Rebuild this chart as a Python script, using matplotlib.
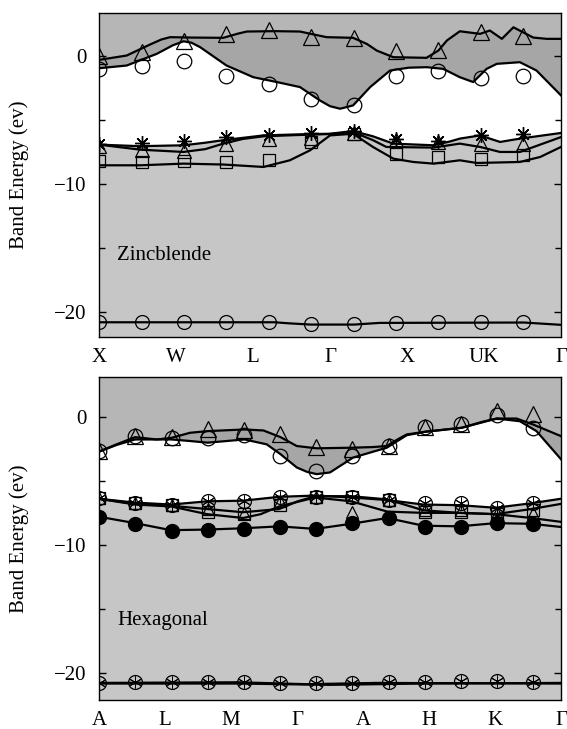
import numpy as np
import matplotlib.pyplot as plt

plt.rcParams['font.family'] = ['Liberation Serif', 'DejaVu Serif']

# ---------------- Zincblende (top panel) ----------------
zb_labels = ['X', 'W', 'L', 'Γ', 'X', 'UK', 'Γ']
zb_k = [0.0, 0.092, 0.183, 0.275, 0.367, 0.459, 0.551, 0.643, 0.734, 0.826, 0.918]

zb_tri_up = [0.0, 0.26, 1.17, 1.69, 2.0, 1.43, 1.38, 0.39, 0.44, 1.82, 1.5]
zb_circ_up = [-1.09, -0.78, -0.39, -1.63, -2.2, -3.42, -3.89, -1.63, -1.17, -1.77, -1.56]
zb_star = [-6.87, -6.80, -6.69, -6.36, -6.23, -6.04, -5.91, -6.49, -6.67, -6.23, -6.15]
zb_tri_low = [-7.08, -7.35, -7.44, -6.87, -6.49, -6.41, -6.04, -6.62, -6.75, -6.87, -6.87]
zb_square = [-8.22, -8.30, -8.22, -8.30, -8.17, -6.74, -6.10, -7.65, -7.91, -8.04, -7.78]
zb_circ_bot = [-20.8, -20.8, -20.8, -20.8, -20.8, -20.95, -20.95, -20.85, -20.8, -20.8, -20.8]

# band lines (k, E)
zb_u1_k = [0.0, 0.06, 0.11, 0.135, 0.154, 0.2, 0.269, 0.3, 0.32, 0.38, 0.435, 0.47, 0.493,
           0.55, 0.58, 0.601, 0.637, 0.709, 0.735, 0.753, 0.781, 0.825, 0.846, 0.872, 0.897,
           0.94, 0.969, 1.0]
zb_u1_e = [-0.34, 0.0, 0.85, 1.25, 1.43, 1.4, 1.38, 1.7, 1.87, 1.9, 1.87, 1.6, 1.43,
           1.38, 0.9, 0.39, -0.13, -0.18, 0.4, 1.17, 1.89, 1.69, 1.95, 1.3, 2.2,
           1.4, 1.3, 1.3]
zb_u2_k = [0.0, 0.06, 0.125, 0.16, 0.183, 0.2, 0.219, 0.276, 0.334, 0.385, 0.435, 0.478,
           0.5, 0.522, 0.55, 0.587, 0.63, 0.67, 0.709, 0.745, 0.781, 0.81, 0.839, 0.861,
           0.911, 0.947, 1.0]
zb_u2_e = [-0.99, -0.78, 0.13, 0.8, 1.11, 1.0, 0.65, -0.78, -1.69, -2.07, -2.46, -3.5,
           -3.95, -4.15, -3.89, -2.46, -1.17, -0.95, -0.91, -1.04, -1.69, -2.07, -1.04, -0.65,
           -0.52, -1.17, -3.11]
zb_s_k = [0.0, 0.089, 0.183, 0.23, 0.269, 0.356, 0.43, 0.5, 0.55, 0.593, 0.637, 0.724,
          0.76, 0.781, 0.825, 0.868, 0.911, 1.0]
zb_s_e = [-6.95, -7.07, -7.0, -6.8, -6.6, -6.23, -6.15, -6.1, -5.89, -6.3, -6.87, -7.0,
          -6.7, -6.48, -6.23, -6.74, -6.48, -6.04]
zb_t_k = [0.0, 0.089, 0.183, 0.23, 0.269, 0.312, 0.356, 0.43, 0.5, 0.55, 0.593, 0.622,
          0.724, 0.781, 0.825, 0.868, 0.911, 1.0]
zb_t_e = [-6.95, -7.34, -7.52, -7.3, -6.87, -6.5, -6.3, -6.2, -6.12, -5.97, -6.6, -7.13,
          -7.18, -6.87, -7.13, -7.52, -7.52, -6.36]
zb_q_k = [0.0, 0.089, 0.183, 0.269, 0.356, 0.413, 0.457, 0.5, 0.55, 0.593, 0.637, 0.68,
          0.724, 0.781, 0.818, 0.911, 0.955, 1.0]
zb_q_e = [-8.56, -8.56, -8.43, -8.5, -8.69, -8.17, -7.39, -6.23, -6.1, -7.13, -8.04, -8.3,
          -8.43, -8.17, -8.38, -8.3, -7.91, -7.13]
zb_b_k = [0.0, 0.2, 0.38, 0.41, 0.458, 0.552, 0.607, 0.92, 1.0]
zb_b_e = [-20.8, -20.8, -20.8, -20.88, -20.98, -20.98, -20.85, -20.82, -21.0]

# ---------------- Hexagonal (bottom panel) ----------------
hx_labels = ['A', 'L', 'M', 'Γ', 'A', 'H', 'K', 'Γ']
hx_k = [0.0, 0.078, 0.157, 0.235, 0.313, 0.392, 0.47, 0.548, 0.627, 0.705, 0.783, 0.862, 0.94]

hx_tri_up = [-2.68, -1.52, -1.60, -1.0, -1.08, -1.39, -2.37, -2.55, -2.29, -0.82, -0.57, 0.41, 0.21]
hx_circ_up = [-2.68, -1.52, -1.64, -1.70, -1.44, -3.07, -4.22, -3.07, -2.29, -0.82, -0.57, 0.1, -0.87]
hx_cstar = [-6.36, -6.75, -6.88, -6.57, -6.57, -6.23, -6.23, -6.23, -6.49, -6.75, -6.75, -7.14, -6.75]
hx_square = [-6.36, -6.75, -6.88, -7.4, -7.6, -6.9, -6.23, -6.3, -6.49, -7.4, -7.4, -7.6, -7.3]
hx_tri_low = [-6.36, -6.75, -6.88, -7.2, -7.5, -6.6, -6.23, -7.4, -6.5, -7.3, -7.3, -7.5, -7.5]
hx_dot = [-7.79, -8.36, -8.88, -8.83, -8.75, -8.57, -8.75, -8.31, -7.92, -8.57, -8.57, -8.31, -8.36]
hx_bot = [-20.75, -20.7, -20.65, -20.65, -20.65, -20.75, -20.75, -20.75, -20.7, -20.65, -20.6, -20.6, -20.65]

hx_h1_k = [0.0, 0.038, 0.078, 0.125, 0.157, 0.197, 0.235, 0.315, 0.356, 0.393, 0.428, 0.471,
           0.55, 0.594, 0.623, 0.645, 0.666, 0.706, 0.785, 0.83, 0.861, 0.904, 0.94, 1.0]
hx_h1_e = [-2.73, -2.16, -1.60, -1.78, -1.65, -1.26, -1.13, -1.0, -1.08, -1.60, -2.29, -2.47,
           -2.42, -2.37, -2.29, -1.8, -1.39, -1.18, -0.87, -0.4, -0.15, -0.15, -0.62, -1.52]
hx_h2_k = [0.0, 0.038, 0.078, 0.157, 0.197, 0.235, 0.315, 0.363, 0.393, 0.428, 0.45, 0.471,
           0.5, 0.55, 0.623, 0.666, 0.706, 0.785, 0.861, 0.911, 0.947, 1.0]
hx_h2_e = [-2.73, -2.21, -1.78, -1.78, -1.9, -2.03, -1.78, -2.16, -2.93, -3.96, -4.3, -4.48,
           -4.35, -3.19, -2.42, -1.45, -1.18, -0.87, -0.15, -0.36, -1.13, -3.32]
hx_l1_k = [0.0, 0.078, 0.156, 0.234, 0.312, 0.39, 0.468, 0.546, 0.624, 0.702, 0.78, 0.858, 0.936, 1.0]
hx_l1_e = [-6.4, -6.7, -6.85, -6.6, -6.55, -6.25, -6.15, -6.3, -6.5, -6.85, -6.9, -7.1, -6.75, -6.4]
hx_l2_k = [0.0, 0.078, 0.156, 0.234, 0.312, 0.39, 0.43, 0.468, 0.546, 0.624, 0.702, 0.78, 0.858, 0.936, 1.0]
hx_l2_e = [-6.4, -6.8, -6.95, -7.2, -7.45, -7.2, -6.6, -6.2, -6.2, -6.45, -7.3, -7.5, -7.6, -7.2, -6.8]
hx_l3_k = [0.0, 0.078, 0.156, 0.234, 0.312, 0.35, 0.39, 0.468, 0.546, 0.624, 0.702, 0.78, 0.858, 0.936, 1.0]
hx_l3_e = [-6.4, -6.85, -7.0, -7.6, -7.9, -7.6, -7.0, -6.3, -6.6, -7.4, -7.5, -7.5, -7.6, -7.9, -8.2]
hx_l4_k = [0.0, 0.078, 0.156, 0.234, 0.312, 0.39, 0.468, 0.546, 0.624, 0.702, 0.78, 0.858, 0.936, 1.0]
hx_l4_e = [-7.8, -8.3, -8.85, -8.8, -8.7, -8.55, -8.75, -8.35, -7.9, -8.5, -8.55, -8.3, -8.35, -8.6]
hx_b1_k = [0.0, 0.3, 0.45, 0.6, 1.0]
hx_b1_e = [-20.75, -20.7, -20.85, -20.75, -20.8]
hx_b2_k = [0.0, 0.3, 0.5, 0.7, 1.0]
hx_b2_e = [-20.8, -20.8, -20.9, -20.8, -20.75]

LW = 1.6
GRAY_LOW = '#c6c6c6'
GRAY_TOP = '#b6b6b6'
GRAY_MID = '#a6a6a6'


def shade(ax, k_up, e_up, k_mid, e_mid, k_gap, e_gap):
    # gray above top band, darker between the two upper bands, white gap below
    ax.fill(np.r_[k_up, 1.0, 0.0], np.r_[e_up, 10, 10], color=GRAY_TOP, lw=0, zorder=0.5)
    ax.fill(np.r_[k_up, k_mid[::-1]], np.r_[e_up, e_mid[::-1]], color=GRAY_MID, lw=0, zorder=0.6)
    ax.fill(np.r_[k_mid, k_gap[::-1]], np.r_[e_mid, e_gap[::-1]], color='white', lw=0, zorder=0.7)


def style(ax, labels, ylim, name, name_y):
    ax.set_facecolor(GRAY_LOW)
    ax.set_xlim(0, 1)
    ax.set_ylim(*ylim)
    ax.set_xticks(np.linspace(0, 1, len(labels)))
    ax.set_xticklabels(labels, fontsize=15)
    ax.tick_params(axis='x', length=0, pad=8)
    ax.set_yticks([0, -10, -20])
    ax.set_yticklabels(['0', '\u221210', '\u221220'], fontsize=15)
    ax.set_yticks([-5, -15], minor=True)
    ax.tick_params(axis='y', which='both', direction='in', left=True, right=True, pad=9)
    ax.tick_params(axis='y', which='major', length=5, width=1)
    ax.tick_params(axis='y', which='minor', length=4, width=1)
    for sp in ax.spines.values():
        sp.set_linewidth(1.0)
    ax.text(0.04, name_y, name, fontsize=15, va='center', ha='left', zorder=4)


fig = plt.figure(figsize=(5.67, 7.29), dpi=100)
ax1 = fig.add_axes([0.1746, 0.5377, 0.8148, 0.4449])
ax2 = fig.add_axes([0.1746, 0.0398, 0.8148, 0.4431])

mk = dict(linestyle='none', color='black', markerfacecolor='none', zorder=3)

# top panel
shade(ax1, zb_u1_k, zb_u1_e, zb_u2_k, zb_u2_e, zb_s_k, zb_s_e)
for kk, ee in [(zb_u1_k, zb_u1_e), (zb_u2_k, zb_u2_e), (zb_s_k, zb_s_e),
               (zb_t_k, zb_t_e), (zb_q_k, zb_q_e), (zb_b_k, zb_b_e)]:
    ax1.plot(kk, ee, color='black', lw=LW, zorder=2, solid_joinstyle='round')
ax1.plot(zb_k, zb_tri_up, marker='^', markersize=11, mew=0.9, **mk)
ax1.plot(zb_k, zb_circ_up, marker='o', markersize=10.5, mew=0.9, **mk)
ax1.plot(zb_k, zb_tri_low, marker='^', markersize=9.5, mew=0.9, **mk)
ax1.plot(zb_k, zb_star, marker=(8, 2, 0), markersize=10.5, mew=1.0, **mk)
ax1.plot(zb_k, zb_square, marker='s', markersize=8, mew=0.9, **mk)
ax1.plot(zb_k, zb_circ_bot, marker='o', markersize=10, mew=0.9, **mk)
style(ax1, zb_labels, (-21.95, 3.34), 'Zincblende', -15.6)

# bottom panel
shade(ax2, hx_h1_k, hx_h1_e, hx_h2_k, hx_h2_e, hx_l1_k, hx_l1_e)
for kk, ee in [(hx_h1_k, hx_h1_e), (hx_h2_k, hx_h2_e), (hx_l1_k, hx_l1_e), (hx_l2_k, hx_l2_e),
               (hx_l3_k, hx_l3_e), (hx_l4_k, hx_l4_e), (hx_b1_k, hx_b1_e), (hx_b2_k, hx_b2_e)]:
    ax2.plot(kk, ee, color='black', lw=LW, zorder=2, solid_joinstyle='round')
ax2.plot(hx_k, hx_tri_up, marker='^', markersize=11, mew=0.9, **mk)
ax2.plot(hx_k, hx_circ_up, marker='o', markersize=10.5, mew=0.9, **mk)
ax2.plot(hx_k, hx_square, marker='s', markersize=8, mew=0.9, **mk)
ax2.plot(hx_k, hx_tri_low, marker='^', markersize=8.5, mew=0.9, **mk)
ax2.plot(hx_k, hx_cstar, marker='o', markersize=10, mew=0.9, **mk)
ax2.plot(hx_k, hx_cstar, marker=(6, 2, 0), markersize=8.5, mew=0.7, **mk)
ax2.plot(hx_k, hx_dot, marker='o', markersize=10, markerfacecolor='black',
         linestyle='none', color='black', zorder=3)
ax2.plot(hx_k, hx_bot, marker='o', markersize=10, mew=0.9, **mk)
ax2.plot(hx_k, hx_bot, marker=(6, 2, 0), markersize=8.5, mew=0.7, **mk)
style(ax2, hx_labels, (-22.08, 3.09), 'Hexagonal', -15.9)

for ax in (ax1, ax2):
    pos = ax.get_position()
    fig.text(0.034, pos.y0 + pos.height / 2, 'Band Energy (ev)', rotation=90,
             ha='center', va='center', fontsize=15)

fig.savefig('out.png', dpi=100)
